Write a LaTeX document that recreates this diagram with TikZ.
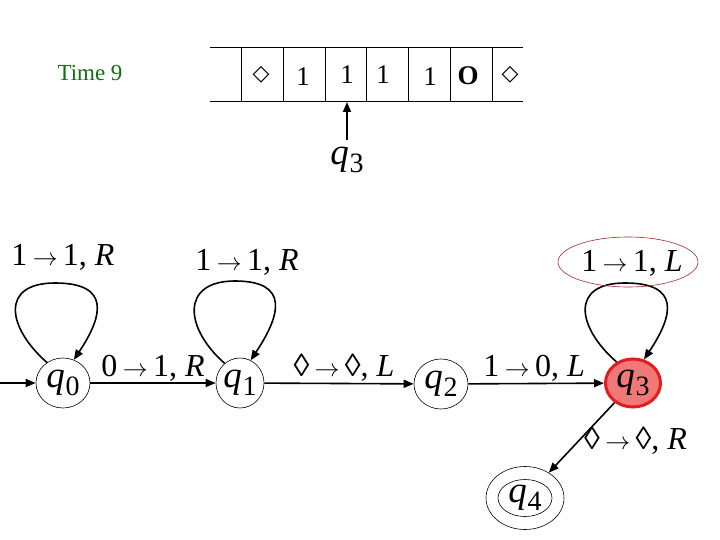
\documentclass[tikz,border=0pt]{standalone}
\usepackage{fontspec}
\setmainfont{Liberation Serif}
\newfontfamily\djv{DejaVu Sans}
\usetikzlibrary{shapes.geometric,arrows.meta}
\definecolor{timegreen}{RGB}{20,110,20}
\definecolor{qfill}{RGB}{242,120,120}
\definecolor{qborder}{RGB}{225,30,30}
\definecolor{lblred}{RGB}{170,40,40}
\newcommand{\qq}[1]{\textit{q}\kern0.02em\raisebox{-0.2em}{\fontsize{28}{28}\selectfont #1}}
\newcommand{\ar}{\,$\rightarrow$\,}
\begin{document}
\begin{tikzpicture}[x=1pt,y=-1pt,
  state/.style={ellipse,draw,line width=0.6pt,minimum width=54pt,minimum height=50pt,inner sep=0pt,font=\fontsize{37}{37}\selectfont},
  edge/.style={line width=1.6pt,-{Triangle[length=10pt,width=8pt]}},
  lbl/.style={font=\fontsize{32}{32}\selectfont,inner sep=1pt},
  cell/.style={font=\fontsize{27}{27}\selectfont,inner sep=0pt},
  dcell/.style={font=\fontsize{22}{22}\selectfont\djv,inner sep=0pt},
  tape/.style={line width=1pt}]
\useasboundingbox (0,0) rectangle (720,540);
\fill[white] (0,0) rectangle (720,540);
% time label
\node[font=\fontsize{23}{23}\selectfont,text=timegreen] (time) at (90,73) {Time 9};
% tape
\draw[tape] (210,48) -- (523,48);
\draw[tape] (210,102) -- (523,102);
\foreach \x in {241,283,325,366,408,450,492} \draw[tape] (\x,48) -- (\x,102);
\node[dcell] (c1) at (261,75) {◇};
\node[cell] (c2) at (303,77) {1};
\node[cell] (c3) at (347,75) {1};
\node[cell] (c4) at (383,75) {1};
\node[cell] (c5) at (430,77) {1};
\node[cell] (c6) at (468,76) {\textbf{O}};
\node[dcell] (c7) at (510,75) {◇};
\node[font=\fontsize{37}{37}\selectfont,inner sep=0pt] (head) at (347,160) {\qq{3}};
\coordinate (hb) at (347,140);
\coordinate (ht) at (347,102);
\draw[edge] (hb) -- (ht);
% states
\node[state] (q0) at (63,383) {\qq{0}};
\node[state,minimum width=48pt] (q1) at (240,383) {\qq{1}};
\node[state] (q2) at (441,384) {\qq{2}};
\node[state,fill=qfill,draw=qborder,line width=3pt,minimum width=55pt,minimum height=48pt] (q3) at (633,383) {\qq{3}};
\node[state,minimum width=54pt,minimum height=37pt] (q4) at (525,498) {\qq{4}};
\node[ellipse,draw,line width=0.6pt,minimum width=78pt,minimum height=63pt] (q4o) at (525,498) {};
% start
\coordinate (start) at (0,383);
\draw[edge] (start) -- (q0);
% transitions
\draw[edge] (q0) -- (q1) node[lbl,midway,above=0pt] (l01) {0\ar 1, \textit{R}};
\draw[edge] (q1) -- (q2) node[lbl,midway,above=0pt,xshift=5pt] (l12) {◊\ar ◊, \textit{L}};
\draw[edge] (q2) -- (q3) node[lbl,midway,above=0pt,xshift=-2pt] (l23) {1\ar 0, \textit{L}};
\draw[edge] (q3) -- (q4o) node[lbl,pos=0.55,right=4pt] (l34) {◊\ar ◊, \textit{R}};
% loops
\coordinate (t0) at (55,283);
\coordinate (t1) at (235,281);
\coordinate (t3) at (625,283);
\draw[edge] (q0.128) .. controls +(-40,-35) and +(-55,0) .. (t0) .. controls +(55,0) and +(30,-45) .. (q0.65);
\draw[edge] (q1.128) .. controls +(-40,-35) and +(-55,0) .. (t1) .. controls +(55,0) and +(30,-45) .. (q1.65);
\draw[edge] (q3.128) .. controls +(-40,-35) and +(-55,0) .. (t3) .. controls +(55,0) and +(30,-45) .. (q3.65);
\node[lbl] (lq0) at (63,257) {1\ar 1, \textit{R}};
\node[lbl] (lq1) at (247,262) {1\ar 1, \textit{R}};
\node[lbl] (lq3) at (632,263) {1\ar 1, \textit{L}};
\node[ellipse,draw=lblred,line width=0.6pt,minimum width=140pt,minimum height=50pt] (hl) at (628,262) {};
\end{tikzpicture}
\end{document}
